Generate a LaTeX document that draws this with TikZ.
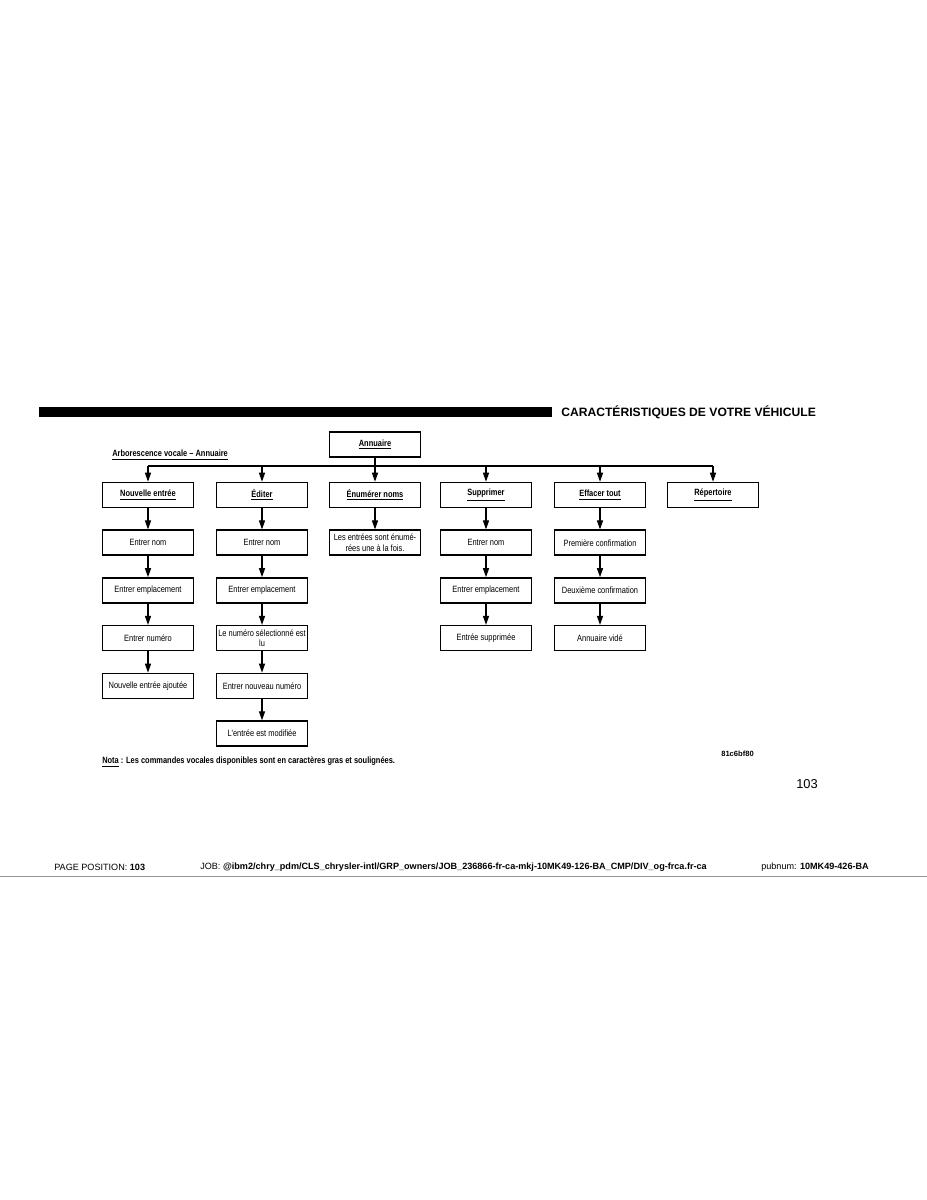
\documentclass[tikz,border=0pt]{standalone}
\usepackage{fontspec}
\setmainfont{Liberation Sans}
\newfontfamily\narrow[FakeStretch=0.82]{Liberation Sans}
\usepackage{tikz}
\usetikzlibrary{arrows.meta, positioning}
\definecolor{rulegray}{RGB}{150, 150, 150}

\begin{document}
\begin{tikzpicture}[x=0.66pt, y=-0.66pt,
    box/.style={rectangle, draw, line width=1pt, minimum width=60pt, minimum height=16.5pt, inner sep=1pt, align=center, font=\narrow\fontsize{6}{7}\selectfont},
    head/.style={box, font=\narrow\bfseries\fontsize{6}{7}\selectfont},
    arr/.style={-{Triangle[length=6pt, width=4pt]}, line width=0.8pt}]
    \useasboundingbox (0,0) rectangle (927,1200);

    % en-tete de page
    \fill (39,407) rectangle (552,417);
    \node[anchor=west, inner sep=0pt, font=\bfseries\fontsize{8}{9}\selectfont] (titre) at (561,412) {CARACTÉRISTIQUES DE VOTRE VÉHICULE};

    % racine
    \node[head] (ann) at (375,444.5) {\underline{Annuaire}};
    \node[anchor=west, inner sep=0pt, font=\narrow\bfseries\fontsize{6}{7}\selectfont] (arbo) at (112,455) {\underline{Arborescence vocale – Annuaire}};

    % commandes du premier niveau
    \node[head] (nouv) at (148,495) {\underline{Nouvelle entrée}};
    \node[head] (edit) at (262,495) {\underline{Éditer}};
    \node[head] (enum) at (375,495) {\underline{Énumérer noms}};
    \node[head] (supp) at (486,495) {\underline{Supprimer}};
    \node[head] (eff) at (600,495) {\underline{Effacer tout}};
    \node[head] (rep) at (713,495) {\underline{Répertoire}};

    \coordinate (bus) at (375,466);
    \draw[line width=1pt] (ann) -- (bus);
    \draw[line width=1pt] (nouv |- bus) -- (rep |- bus);
    \draw[arr] (bus) -- (enum);
    \draw[arr] (nouv |- bus) -- (nouv);
    \draw[arr] (edit |- bus) -- (edit);
    \draw[arr] (supp |- bus) -- (supp);
    \draw[arr] (eff |- bus) -- (eff);
    \draw[arr] (rep |- bus) -- (rep);

    % Nouvelle entree
    \node[box, below=14pt of nouv] (nouv1) {Entrer nom};
    \node[box, below=14pt of nouv1] (nouv2) {Entrer emplacement};
    \node[box, below=14pt of nouv2] (nouv3) {Entrer numéro};
    \node[box, below=14pt of nouv3] (nouv4) {Nouvelle entrée ajoutée};
    \draw[arr] (nouv) -- (nouv1);
    \draw[arr] (nouv1) -- (nouv2);
    \draw[arr] (nouv2) -- (nouv3);
    \draw[arr] (nouv3) -- (nouv4);

    % Editer
    \node[box, below=14pt of edit] (edit1) {Entrer nom};
    \node[box, below=14pt of edit1] (edit2) {Entrer emplacement};
    \node[box, below=14pt of edit2] (edit3) {Le numéro sélectionné est\\lu};
    \node[box, below=14pt of edit3] (edit4) {Entrer nouveau numéro};
    \node[box, below=14pt of edit4] (edit5) {L'entrée est modifiée};
    \draw[arr] (edit) -- (edit1);
    \draw[arr] (edit1) -- (edit2);
    \draw[arr] (edit2) -- (edit3);
    \draw[arr] (edit3) -- (edit4);
    \draw[arr] (edit4) -- (edit5);

    % Enumerer noms
    \node[box, below=14pt of enum] (enum1) {Les entrées sont énumé-\\rées une à la fois.};
    \draw[arr] (enum) -- (enum1);

    % Supprimer
    \node[box, below=14pt of supp] (supp1) {Entrer nom};
    \node[box, below=14pt of supp1] (supp2) {Entrer emplacement};
    \node[box, below=14pt of supp2] (supp3) {Entrée supprimée};
    \draw[arr] (supp) -- (supp1);
    \draw[arr] (supp1) -- (supp2);
    \draw[arr] (supp2) -- (supp3);

    % Effacer tout
    \node[box, below=14pt of eff] (eff1) {Première confirmation};
    \node[box, below=14pt of eff1] (eff2) {Deuxième confirmation};
    \node[box, below=14pt of eff2] (eff3) {Annuaire vidé};
    \draw[arr] (eff) -- (eff1);
    \draw[arr] (eff1) -- (eff2);
    \draw[arr] (eff2) -- (eff3);

    % notes
    \node[anchor=west, inner sep=0pt, font=\narrow\bfseries\fontsize{6}{7}\selectfont] (nota) at (102,762) {\underline{Nota} : Les commandes vocales disponibles sont en caractères gras et soulignées.};
    \node[anchor=west, inner sep=0pt, font=\bfseries\fontsize{5}{6}\selectfont] (ref) at (721,754) {81c6bf80};
    \node[anchor=west, inner sep=0pt, font=\fontsize{8.5}{10}\selectfont] (page) at (796,784) {103};

    % pied de page
    \node[anchor=west, inner sep=0pt, font=\fontsize{6}{7}\selectfont] (pos) at (54,867) {PAGE POSITION: \textbf{103}};
    \node[anchor=west, inner sep=0pt, font=\fontsize{6}{7}\selectfont] (job) at (200,867) {JOB: \textbf{@ibm2/chry\_pdm/CLS\_chrysler-intl/GRP\_owners/JOB\_236866-fr-ca-mkj-10MK49-126-BA\_CMP/DIV\_og-frca.fr-ca}};
    \node[anchor=west, inner sep=0pt, font=\fontsize{6}{7}\selectfont] (pub) at (761,867) {pubnum: \textbf{10MK49-426-BA}};
    \draw[rulegray, line width=0.6pt] (0,876) -- (927,876);
\end{tikzpicture}
\end{document}
